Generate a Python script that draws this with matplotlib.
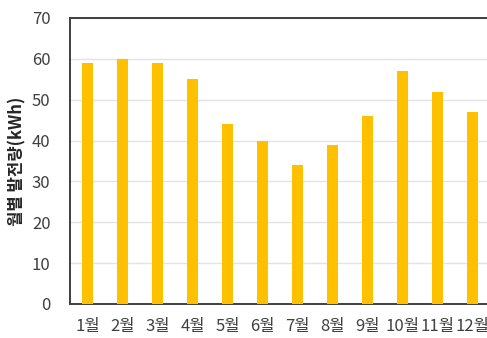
import numpy as np
import matplotlib
matplotlib.use('Agg')
import matplotlib.pyplot as plt

plt.rcParams['font.family'] = ['Noto Sans CJK KR', 'DejaVu Sans']

months = ['1월', '2월', '3월', '4월', '5월', '6월',
          '7월', '8월', '9월', '10월', '11월', '12월']
generation = [59, 60, 59, 55, 44, 40, 34, 39, 46, 57, 52, 47]
y_ticks = [0, 10, 20, 30, 40, 50, 60, 70]

fig = plt.figure(figsize=(4.87, 3.38), dpi=100)
# plot area runs a little past the right edge, like the cropped original
ax = fig.add_axes([70 / 487, 1 - 304 / 338, 420 / 487, 286 / 338])

x = np.arange(len(months))
ax.bar(x, generation, width=0.31, color='#FFC000', zorder=3)

ax.set_xlim(-0.5, len(months) - 0.5)
ax.set_ylim(0, 70)
ax.set_yticks(y_ticks)
ax.set_xticks(x)
ax.set_xticklabels(months)

ax.yaxis.grid(True, color='#E3E3E3', linewidth=1.0, zorder=0)
ax.set_axisbelow(True)

for side in ['left', 'bottom', 'top']:
  ax.spines[side].set_color('#404040')
  ax.spines[side].set_linewidth(1.4)
ax.spines['right'].set_visible(False)

ax.tick_params(axis='both', length=0, labelsize=12, colors='#404040')
ax.tick_params(axis='y', pad=14)
ax.tick_params(axis='x', pad=10)

ax.set_ylabel('월별 발전량(kWh)', fontsize=12, fontweight='bold',
              color='#262626', labelpad=4)

fig.savefig('out.png', dpi=100)
